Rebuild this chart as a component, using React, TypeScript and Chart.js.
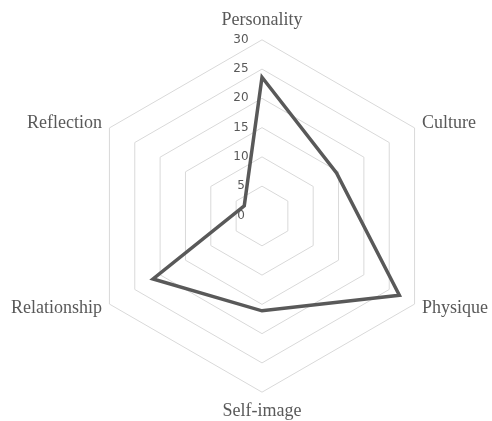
import React, { useEffect, useRef } from 'react';
import { Chart, registerables } from 'chart.js';

Chart.register(...registerables);

const categories = ['Personality', 'Culture', 'Physique', 'Self-image', 'Relationship', 'Reflection'];
const seriesValues = [23.6, 14.6, 27.0, 16.1, 21.4, 3.4];
const tickValues = [0, 5, 10, 15, 20, 25, 30];

const TICK_SHIFT_X = -21;

const tickShift = {
  id: 'tickShift',
  afterDatasetsDraw(chart: any) {
    chart.ctx.save();
    chart.ctx.translate(TICK_SHIFT_X, 0);
  },
  afterDraw(chart: any) {
    chart.ctx.restore();
  },
};

export default function App() {
  const ref = useRef<HTMLCanvasElement>(null);
  useEffect(() => {
    const chart = new Chart(ref.current as HTMLCanvasElement, {
      type: 'radar',
      data: {
        labels: categories,
        datasets: [
          {
            label: 'Series 1',
            data: seriesValues,
            borderColor: '#595959',
            borderWidth: 3.5,
            pointRadius: 0,
            pointHoverRadius: 0,
            fill: false,
            backgroundColor: 'rgba(0,0,0,0)',
            borderJoinStyle: 'miter',
          },
        ],
      },
      options: {
        responsive: false,
        animation: false,
        devicePixelRatio: 1,
        layout: { padding: 0 },
        plugins: { legend: { display: false }, tooltip: { enabled: false } },
        scales: {
          r: {
            min: -0.1,
            max: 30,
            afterBuildTicks: (s: any) => {
              s.ticks = tickValues.map((v) => ({ value: v }));
            },
            angleLines: { display: false },
            grid: {
              color: (c: any) => (c.tick && c.tick.value === 0 ? 'rgba(0,0,0,0)' : '#d9d9d9'),
              lineWidth: 1,
            },
            ticks: {
              z: 1,
              showLabelBackdrop: false,
              color: '#595959',
              font: { family: '"DejaVu Sans", sans-serif', size: 12 },
              callback: (v: any) => String(v),
            },
            pointLabels: {
              color: '#595959',
              font: { family: '"Liberation Serif", "Times New Roman", serif', size: 18, lineHeight: 0.01 },
              padding: (c: any) => (c.index === 0 || c.index === 3 ? 11 : 0.5),
            },
          },
        },
      } as any,
      plugins: [tickShift],
    });
    return () => {
      chart.destroy();
    };
  }, []);
  return (
    <div
      style={{
        position: 'fixed',
        left: 0,
        top: 0,
        width: 492,
        height: 421,
        overflow: 'hidden',
        background: '#fff',
      }}
    >
      <canvas
        ref={ref}
        width={504}
        height={434}
        style={{ position: 'absolute', left: -4, top: 0, width: 504, height: 434 }}
      />
    </div>
  );
}
